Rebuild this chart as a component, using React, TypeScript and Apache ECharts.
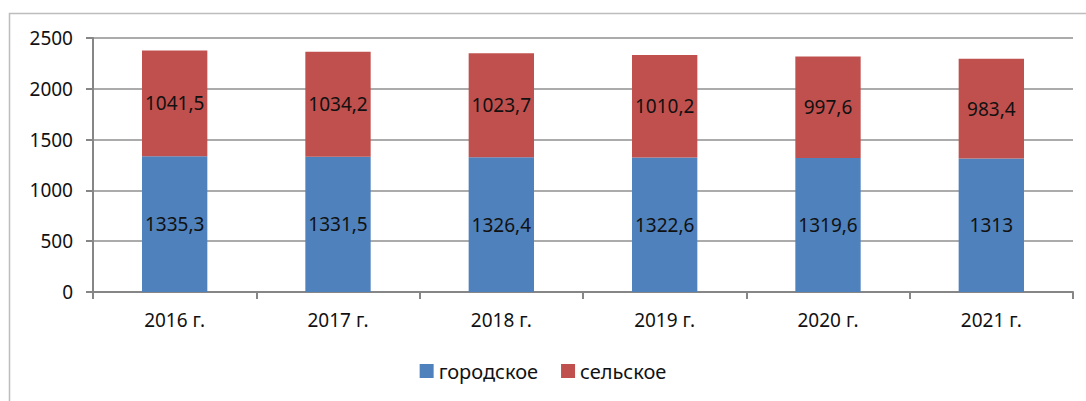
import React, { useEffect, useRef } from "react";
import * as echarts from "echarts";

const categories = ["2016 г.", "2017 г.", "2018 г.", "2019 г.", "2020 г.", "2021 г."];
const urban = [1335.3, 1331.5, 1326.4, 1322.6, 1319.6, 1313];
const rural = [1041.5, 1034.2, 1023.7, 1010.2, 997.6, 983.4];
const seriesNames = ["городское", "сельское"];

const FONT = "Noto Sans";

export default function App() {
  const ref = useRef<HTMLDivElement>(null);
  useEffect(() => {
    if (!ref.current) return;
    const chart = echarts.init(ref.current, undefined, { renderer: "svg" });
    const fmt = (p: any) => String(p.value).replace(".", ",");
    const label = {
      show: true,
      position: "inside",
      color: "#111",
      fontFamily: FONT,
      fontSize: 19,
      formatter: fmt,
    };
    chart.setOption({
      animation: false,
      textStyle: { fontFamily: FONT },
      graphic: [
        {
          type: "rect",
          shape: { x: 9.5, y: 13.5, width: 1100, height: 420 },
          style: { fill: "none", stroke: "#bdbdbd", lineWidth: 1.5 },
          silent: true,
        },
      ],
      grid: { left: 93, right: 13, top: 38, bottom: 109 },
      legend: {
        bottom: 15,
        left: "center",
        itemWidth: 14,
        itemHeight: 14,
        itemGap: 23,
        icon: "rect",
        textStyle: { fontFamily: FONT, fontSize: 20, color: "#111" },
        data: seriesNames,
      },
      xAxis: {
        type: "category",
        data: categories,
        axisLine: { lineStyle: { color: "#868686", width: 2 } },
        axisTick: { show: true, length: 7, lineStyle: { color: "#868686", width: 2 } },
        axisLabel: { fontFamily: FONT, fontSize: 19, color: "#111", margin: 18 },
      },
      yAxis: {
        type: "value",
        min: 0,
        max: 2500,
        interval: 500,
        axisLine: { show: true, lineStyle: { color: "#868686", width: 2 } },
        axisTick: { show: true, length: 7, lineStyle: { color: "#868686", width: 2 } },
        axisLabel: {
          fontFamily: FONT,
          fontSize: 19,
          color: "#111",
          margin: 20,
          formatter: (v: number) => String(v),
        },
        splitLine: { lineStyle: { color: "#8f8f8f", width: 1.5 } },
      },
      series: [
        {
          name: seriesNames[0],
          type: "bar",
          stack: "total",
          data: urban,
          barWidth: "40%",
          itemStyle: { color: "#4F81BD" },
          label,
        },
        {
          name: seriesNames[1],
          type: "bar",
          stack: "total",
          data: rural,
          barWidth: "40%",
          itemStyle: { color: "#C0504D" },
          label,
        },
      ],
    });
    return () => chart.dispose();
  }, []);
  return (
    <div
      ref={ref}
      style={{ position: "fixed", left: 0, top: 0, width: 1086, height: 401, background: "#fff" }}
    />
  );
}
